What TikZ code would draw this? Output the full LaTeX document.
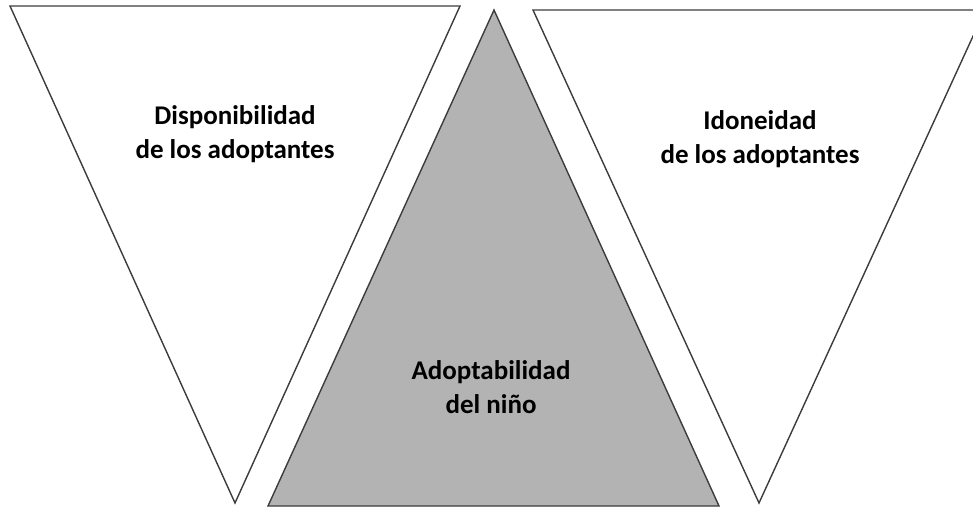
\documentclass[tikz,border=0pt]{standalone}
\usepackage{fontspec}
\setmainfont{Carlito}
\usetikzlibrary{positioning}

\begin{document}
\begin{tikzpicture}[x=1pt,y=-1pt,line join=miter,
	tri/.style={draw=edge,line width=1.4pt},
	label node/.style={align=center,font=\fontsize{27}{34}\selectfont\bfseries,text=black}]
	
	\definecolor{edge}{RGB}{60,60,60}
	\definecolor{shade}{RGB}{179,179,179}
	
	\clip (0,0) rectangle (973,508);
	
	% three triangles
	\draw[tri, fill=white] (10,6) -- (460,6) -- (235,503) -- cycle;
	\draw[tri, fill=shade] (494,10) -- (719,506) -- (268,506) -- cycle;
	\draw[tri, fill=white] (533,10) -- (985,10) -- (759,503) -- cycle;
	
	\node[label node] (d) at (235,134.5) {Disponibilidad\\de los adoptantes};
	\node[label node] (n) at (491,387.5) {Adoptabilidad\\del niño};
	\node[label node] (i) at (760,139) {Idoneidad\\de los adoptantes};
\end{tikzpicture}
\end{document}
